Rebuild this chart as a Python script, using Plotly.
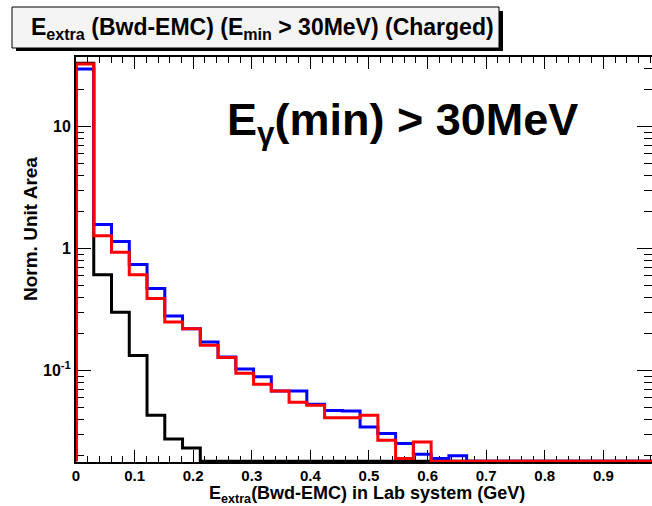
import numpy as np
import plotly.graph_objects as go

# ---------------- data ----------------
N_BINS = 33
X_LOW, X_HIGH = 0.0, 1.0

black_vals = [33.0, 0.61, 0.30, 0.133, 0.043, 0.0275, 0.0232, 0, 0, 0, 0,
              0, 0, 0, 0, 0, 0, 0, 0, 0, 0, 0,
              0, 0, 0, 0, 0, 0, 0, 0, 0, 0, 0]
blue_vals = [29.6, 1.57, 1.14, 0.74, 0.47, 0.28, 0.22, 0.171, 0.129, 0.103, 0.089,
             0.068, 0.068, 0.053, 0.047, 0.0466, 0.0344, 0.0304, 0.0252, 0.0206, 0.0190, 0.0200,
             0, 0, 0, 0, 0, 0, 0, 0, 0, 0, 0]
red_vals = [32.5, 1.27, 0.93, 0.61, 0.39, 0.25, 0.22, 0.161, 0.128, 0.095, 0.077,
            0.068, 0.055, 0.052, 0.041, 0.041, 0.043, 0.0268, 0.0190, 0.0260, 0, 0,
            0, 0, 0, 0, 0, 0, 0, 0, 0, 0, 0]

x_tick_vals = [0, 0.1, 0.2, 0.3, 0.4, 0.5, 0.6, 0.7, 0.8, 0.9]
y_tick_vals = [0.1, 1, 10]
y_tick_text = ["10<sup>-1</sup>", "1", "10"]

title_text = "E<sub>extra</sub> (Bwd-EMC) (E<sub>min</sub> > 30MeV) (Charged)"
label_text = "E<sub>γ</sub>(min) > 30MeV"
x_title = "E<sub>extra</sub>(Bwd-EMC) in Lab system (GeV)"
y_title = "Norm. Unit Area"

# ---------------- geometry ----------------
W, H = 652, 506
L, R, T, B = 76, 0, 57, 44
PW, PH = W - L - R, H - T - B
Y_RANGE = [-1.75, 1.57]
X_RANGE = [0.0, 0.983]
FONT = "Liberation Sans"

edges = np.linspace(X_LOW, X_HIGH, N_BINS + 1)
floor = 10 ** (Y_RANGE[0] + 0.006)


def step_xy(vals):
    v = [max(val, floor) for val in vals]
    xs = [edges[0]] + list(edges[:-1]) + [edges[-1]]
    ys = [floor] + v + [v[-1]]
    return xs, ys


def px(xp):
    return (xp - L) / PW


def py(yp):
    return (T + PH - yp) / PH


fig = go.Figure()
for vals, col in [(black_vals, "black"), (blue_vals, "#0000ff"), (red_vals, "#ff0000")]:
    xs, ys = step_xy(vals)
    fig.add_trace(go.Scatter(x=xs, y=ys, mode="lines", line=dict(color=col, width=3, shape="hv"),
                             showlegend=False, hoverinfo="skip"))

minor_y = []
for dec in [0.01, 0.1, 1, 10]:
    for k in range(2, 10):
        minor_y.append(k * dec)

axis_common = dict(showline=True, linecolor="black", linewidth=2, mirror="ticks", ticks="inside",
                   tickcolor="black", tickwidth=1, showgrid=False, zeroline=False,
                   layer="below traces", automargin=False)

fig.update_xaxes(range=X_RANGE, tickmode="array", tickvals=x_tick_vals, ticklen=12,
                 ticklabelstandoff=-1,
                 tickfont=dict(family=FONT, size=15, color="black", weight="bold"),
                 minor=dict(ticks="inside", ticklen=6, dtick=0.02, tick0=0, tickcolor="black", showgrid=False),
                 **axis_common)
fig.update_yaxes(type="log", range=Y_RANGE, tickmode="array", tickvals=y_tick_vals, ticktext=y_tick_text,
                 ticklen=15,
                 tickfont=dict(family=FONT, size=16, color="black", weight="bold"),
                 minor=dict(ticks="inside", ticklen=8, tickmode="array", tickvals=minor_y, tickcolor="black",
                            showgrid=False),
                 **axis_common)

shapes = [
    dict(type="rect", xref="paper", yref="paper", x0=px(16), x1=px(503), y0=py(51), y1=py(11),
         fillcolor="black", line=dict(width=0), layer="above"),
    dict(type="rect", xref="paper", yref="paper", x0=px(12), x1=px(499), y0=py(48), y1=py(7),
         fillcolor="#f4f4f4", line=dict(color="black", width=1), layer="above"),
]

annotations = [
    dict(text=title_text, x=px(262), y=py(28), xref="paper", yref="paper", xanchor="center", yanchor="middle",
         showarrow=False, font=dict(family=FONT, size=23, color="black", weight="bold")),
    dict(text=label_text, x=px(402), y=py(122), xref="paper", yref="paper", xanchor="center", yanchor="middle",
         showarrow=False, font=dict(family=FONT, size=45, color="black", weight="bold")),
    dict(text=x_title, x=px(367), y=py(494), xref="paper", yref="paper", xanchor="center", yanchor="middle",
         showarrow=False, font=dict(family=FONT, size=18, color="black", weight="bold")),
    dict(text=y_title, x=px(30), y=py(229), xref="paper", yref="paper", xanchor="center", yanchor="middle",
         textangle=-90, showarrow=False, font=dict(family=FONT, size=19, color="black", weight="bold")),
]

fig.update_layout(width=W, height=H, margin=dict(l=L, r=R, t=T, b=B, pad=0),
                  paper_bgcolor="white", plot_bgcolor="white",
                  shapes=shapes, annotations=annotations, showlegend=False)

fig.write_html("out.html", config={"displayModeBar": False},
               post_script="document.body.style.margin='0';document.body.style.overflow='hidden';")
